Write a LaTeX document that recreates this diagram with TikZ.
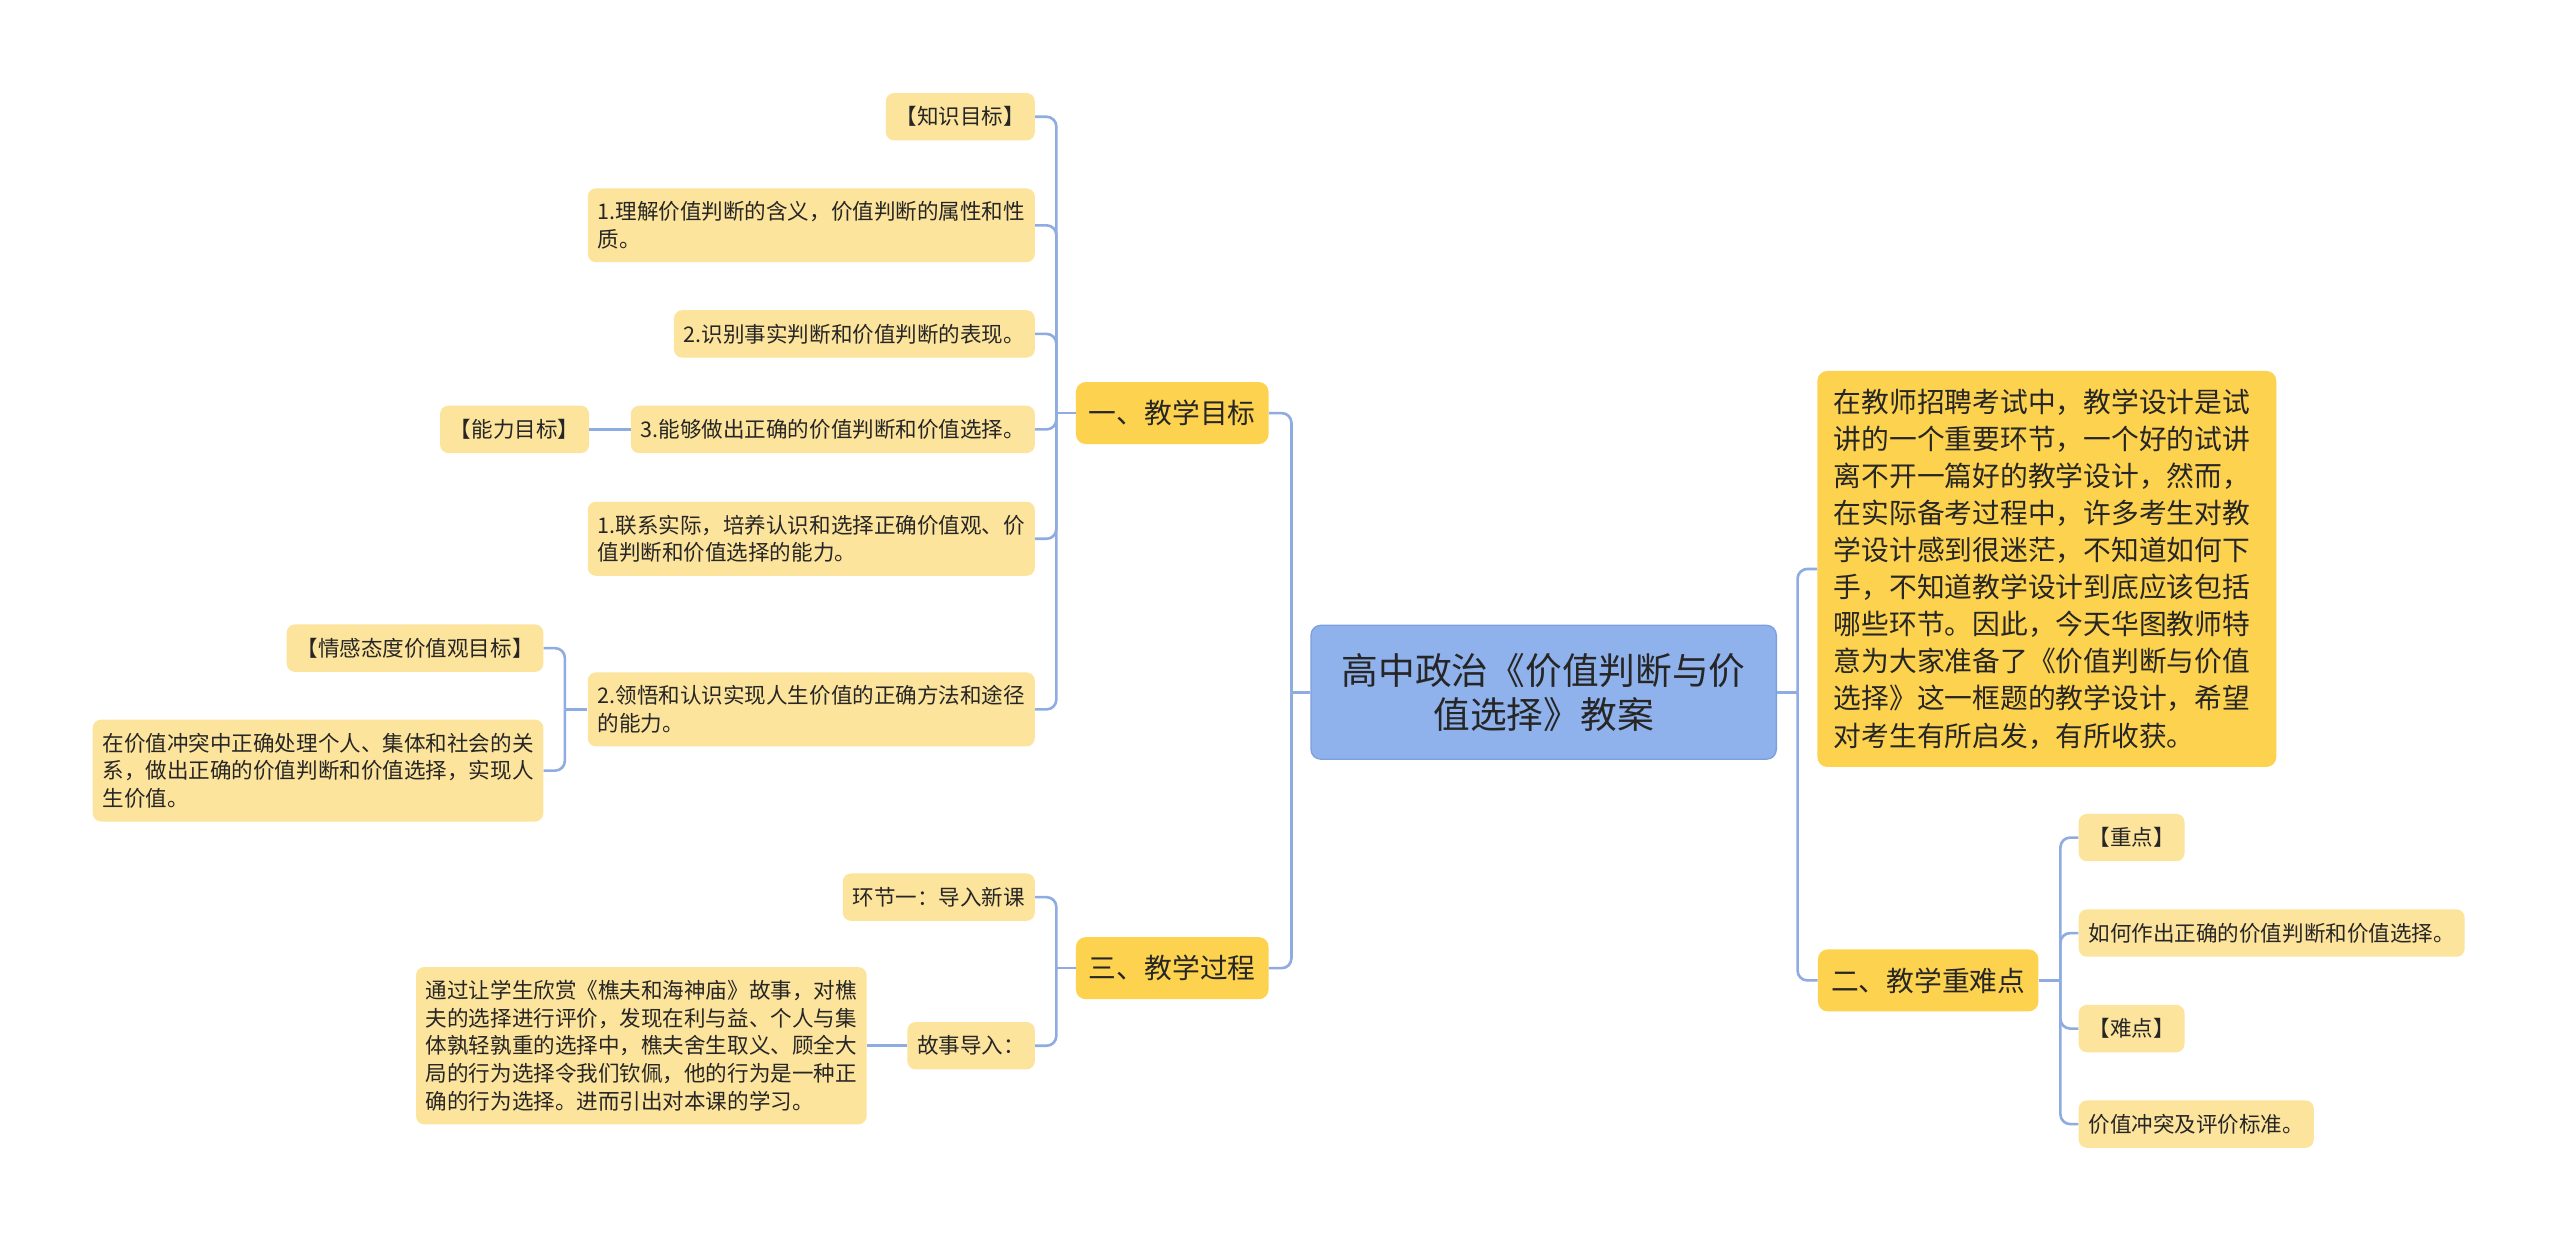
\documentclass[tikz,border=0pt]{standalone}
\usepackage{fontspec}
\setmainfont{Noto Sans CJK SC}
\usepackage{tikz}
\usetikzlibrary{positioning}
\definecolor{rootblue}{HTML}{8FB2EC}
\definecolor{rootedge}{HTML}{7C9FDE}
\definecolor{topicgold}{HTML}{FDD24F}
\definecolor{leafyellow}{HTML}{FDE49C}
\definecolor{linkblue}{HTML}{8FACE2}
\definecolor{inktext}{HTML}{262626}
\begin{document}
\begin{tikzpicture}[x=1pt,y=-1pt,
	rootbox/.style={draw=rootedge,line width=0.8pt,fill=rootblue,rounded corners=6pt,align=center,minimum width=285pt,minimum height=82pt,text=inktext,font=\fontsize{22.5}{27}\selectfont},
	topicbox/.style={fill=topicgold,rounded corners=6pt,inner xsep=8pt,inner ysep=0pt,minimum height=38pt,text=inktext,font=\fontsize{17}{20}\selectfont},
	introbox/.style={fill=topicgold,rounded corners=6pt,align=left,text width=261pt,inner xsep=10pt,inner ysep=11pt,text=inktext,font=\fontsize{17}{22.7}\selectfont},
	leafbox/.style={fill=leafyellow,rounded corners=5pt,align=left,inner xsep=6pt,inner ysep=8pt,minimum height=29pt,text=inktext,font=\fontsize{13.2}{17}\selectfont},
	link/.style={draw=linkblue,line width=1.6pt,rounded corners=6pt}]
	\fill[white] (0,0) rectangle (1568,760);
	\useasboundingbox (0,0) rectangle (1568,760);
	\node[rootbox] (root) at (945.5,424) {高中政治《价值判断与价\\值选择》教案};
	\node[topicbox] (goal) at (718,253) {一、教学目标};
	\node[topicbox] (proc) at (718,593) {三、教学过程};
	\node[topicbox] (key) at (1181,600.5) {二、教学重难点};
	\node[introbox,anchor=north west] (intro) at (1113,227) {在教师招聘考试中，教学设计是试\\讲的一个重要环节，一个好的试讲\\离不开一篇好的教学设计，然而，\\在实际备考过程中，许多考生对教\\学设计感到很迷茫，不知道如何下\\手，不知道教学设计到底应该包括\\哪些环节。因此，今天华图教师特\\意为大家准备了《价值判断与价值\\选择》这一框题的教学设计，希望\\对考生有所启发，有所收获。};
	\node[leafbox,anchor=east] (know) at (634,71.5) {【知识目标】};
	\node[leafbox,anchor=east] (g1) at (634,138) {1.理解价值判断的含义，价值判断的属性和性\\质。};
	\node[leafbox,anchor=east] (g2) at (634,204.5) {2.识别事实判断和价值判断的表现。};
	\node[leafbox,anchor=east] (g3) at (634,263) {3.能够做出正确的价值判断和价值选择。};
	\node[leafbox,anchor=east] (g4) at (634,330) {1.联系实际，培养认识和选择正确价值观、价\\值判断和价值选择的能力。};
	\node[leafbox,anchor=east] (g5) at (634,434.5) {2.领悟和认识实现人生价值的正确方法和途径\\的能力。};
	\node[leafbox,anchor=east] (ability) at (361,263) {【能力目标】};
	\node[leafbox,anchor=east] (emotion) at (333,397) {【情感态度价值观目标】};
	\node[leafbox,anchor=east] (conflict) at (333,472) {在价值冲突中正确处理个人、集体和社会的关\\系，做出正确的价值判断和价值选择，实现人\\生价值。};
	\node[leafbox,anchor=east] (step1) at (634,549.5) {环节一：导入新课};
	\node[leafbox,anchor=east] (story) at (634,640.5) {故事导入：};
	\node[leafbox,anchor=east] (storytext) at (531,640.5) {通过让学生欣赏《樵夫和海神庙》故事，对樵\\夫的选择进行评价，发现在利与益、个人与集\\体孰轻孰重的选择中，樵夫舍生取义、顾全大\\局的行为选择令我们钦佩，他的行为是一种正\\确的行为选择。进而引出对本课的学习。};
	\node[leafbox,anchor=west] (focus) at (1273,513) {【重点】};
	\node[leafbox,anchor=west] (focustext) at (1273,571.5) {如何作出正确的价值判断和价值选择。};
	\node[leafbox,anchor=west] (hard) at (1273,630) {【难点】};
	\node[leafbox,anchor=west] (hardtext) at (1273,688.5) {价值冲突及评价标准。};
	\coordinate (lt) at (791,424);
	\coordinate (rt) at (1101,424);
	\coordinate (gt) at (647,253);
	\coordinate (g5t) at (346,434.5);
	\coordinate (pt) at (647,593);
	\coordinate (kt) at (1262,600.5);
	\draw[link] (root.west) -- (lt);
	\draw[link] (root.east) -- (rt);
	\foreach \n in {goal,proc} \draw[link] (lt) |- (\n.east);
	\foreach \n in {intro,key} \draw[link] (rt) |- (\n.west);
	\draw[link] (goal.west) -- (gt);
	\foreach \n in {know,g1,g2,g3,g4,g5} \draw[link] (gt) |- (\n.east);
	\draw[link] (g3.west) -- (ability.east);
	\draw[link] (g5.west) -- (g5t);
	\foreach \n in {emotion,conflict} \draw[link] (g5t) |- (\n.east);
	\draw[link] (proc.west) -- (pt);
	\foreach \n in {step1,story} \draw[link] (pt) |- (\n.east);
	\draw[link] (story.west) -- (storytext.east);
	\draw[link] (key.east) -- (kt);
	\foreach \n in {focus,focustext,hard,hardtext} \draw[link] (kt) |- (\n.west);
\end{tikzpicture}
\end{document}
